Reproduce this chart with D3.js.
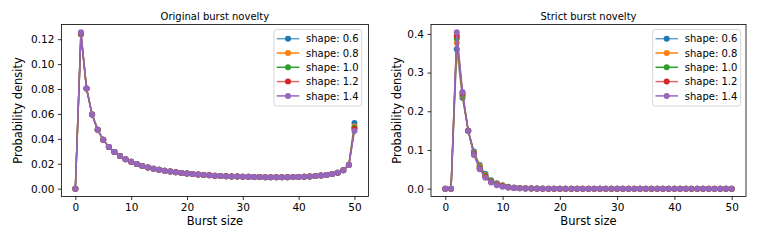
<!DOCTYPE html>
<html lang="en">
<head>
<meta charset="UTF-8" />
<title>Burst novelty</title>
<script src="https://d3js.org/d3.v7.min.js"></script>
<style>
  body { margin: 0; background: white; }
  text { font-family: "DejaVu Sans", sans-serif; fill: #000; }
</style>
</head>
<body>
<div class="visHolder"></div>
<script>
// ----------- Data ----------- //
var burstSizes = d3.range(0, 51);
var shapeLabels = ['shape: 0.6', 'shape: 0.8', 'shape: 1.0', 'shape: 1.2', 'shape: 1.4'];
var colors = ['#1f77b4', '#ff7f0e', '#2ca02c', '#d62728', '#9467bd'];
var lineAlpha = [0.7, 1, 1, 0.7, 1];

var xTicks = [0, 10, 20, 30, 40, 50];
var origYTicks = [0, 0.02, 0.04, 0.06, 0.08, 0.10, 0.12];
var strictYTicks = [0, 0.1, 0.2, 0.3, 0.4];

// original burst novelty, one array per shape
var orig06 = [0, 0.1238, 0.0805, 0.0595, 0.0472, 0.0392, 0.0335, 0.0295, 0.0262, 0.0237, 0.0216, 0.0198, 0.0183, 0.0171, 0.0160, 0.0151, 0.0143, 0.0137, 0.0131, 0.0126, 0.0121, 0.0117, 0.0113, 0.0110, 0.0107, 0.0104, 0.0102, 0.0100, 0.0098, 0.0097, 0.0096, 0.0095, 0.0094, 0.0093, 0.0092, 0.0092, 0.0091, 0.0091, 0.0092, 0.0093, 0.0094, 0.0096, 0.0098, 0.0101, 0.0105, 0.0110, 0.0117, 0.0128, 0.0147, 0.0192, 0.0528];
var orig08 = [0, 0.1242, 0.0805, 0.0595, 0.0472, 0.0392, 0.0335, 0.0295, 0.0262, 0.0237, 0.0216, 0.0198, 0.0183, 0.0171, 0.0160, 0.0151, 0.0143, 0.0137, 0.0131, 0.0126, 0.0121, 0.0117, 0.0113, 0.0110, 0.0107, 0.0104, 0.0102, 0.0100, 0.0098, 0.0097, 0.0096, 0.0095, 0.0094, 0.0093, 0.0092, 0.0092, 0.0091, 0.0091, 0.0092, 0.0093, 0.0094, 0.0096, 0.0098, 0.0101, 0.0105, 0.0110, 0.0117, 0.0128, 0.0147, 0.0191, 0.0500];
var orig10 = [0, 0.1246, 0.0805, 0.0595, 0.0472, 0.0392, 0.0335, 0.0295, 0.0262, 0.0237, 0.0216, 0.0198, 0.0183, 0.0171, 0.0160, 0.0151, 0.0143, 0.0137, 0.0131, 0.0126, 0.0121, 0.0117, 0.0113, 0.0110, 0.0107, 0.0104, 0.0102, 0.0100, 0.0098, 0.0097, 0.0096, 0.0095, 0.0094, 0.0093, 0.0092, 0.0092, 0.0091, 0.0091, 0.0092, 0.0093, 0.0094, 0.0096, 0.0098, 0.0101, 0.0105, 0.0110, 0.0117, 0.0128, 0.0147, 0.0191, 0.0490];
var orig12 = [0, 0.1250, 0.0805, 0.0595, 0.0472, 0.0392, 0.0335, 0.0295, 0.0262, 0.0237, 0.0216, 0.0198, 0.0183, 0.0171, 0.0160, 0.0151, 0.0143, 0.0137, 0.0131, 0.0126, 0.0121, 0.0117, 0.0113, 0.0110, 0.0107, 0.0104, 0.0102, 0.0100, 0.0098, 0.0097, 0.0096, 0.0095, 0.0094, 0.0093, 0.0092, 0.0092, 0.0091, 0.0091, 0.0092, 0.0093, 0.0094, 0.0096, 0.0098, 0.0101, 0.0105, 0.0110, 0.0117, 0.0128, 0.0147, 0.0191, 0.0480];
var orig14 = [0, 0.1255, 0.0805, 0.0595, 0.0472, 0.0392, 0.0335, 0.0295, 0.0262, 0.0237, 0.0216, 0.0198, 0.0183, 0.0171, 0.0160, 0.0151, 0.0143, 0.0137, 0.0131, 0.0126, 0.0121, 0.0117, 0.0113, 0.0110, 0.0107, 0.0104, 0.0102, 0.0100, 0.0098, 0.0097, 0.0096, 0.0095, 0.0094, 0.0093, 0.0092, 0.0092, 0.0091, 0.0091, 0.0092, 0.0093, 0.0094, 0.0096, 0.0098, 0.0101, 0.0105, 0.0110, 0.0117, 0.0128, 0.0147, 0.0190, 0.0462];

// strict burst novelty, one array per shape
var strict06 = [0, 0, 0.360, 0.235, 0.150, 0.096, 0.061, 0.038, 0.022, 0.014, 0.009, 0.005, 0.003, 0.002, 0.001, 0.0005, 0.0003, 0.0002, 0.0001, 0, 0, 0, 0, 0, 0, 0, 0, 0, 0, 0, 0, 0, 0, 0, 0, 0, 0, 0, 0, 0, 0, 0, 0, 0, 0, 0, 0, 0, 0, 0, 0];
var strict08 = [0, 0, 0.377, 0.240, 0.150, 0.093, 0.058, 0.035, 0.020, 0.012, 0.008, 0.004, 0.0025, 0.0015, 0.001, 0.0005, 0.0002, 0.0001, 0, 0, 0, 0, 0, 0, 0, 0, 0, 0, 0, 0, 0, 0, 0, 0, 0, 0, 0, 0, 0, 0, 0, 0, 0, 0, 0, 0, 0, 0, 0, 0, 0];
var strict10 = [0, 0, 0.388, 0.243, 0.150, 0.091, 0.055, 0.033, 0.019, 0.011, 0.007, 0.004, 0.002, 0.001, 0.0007, 0.0004, 0.0002, 0.0001, 0, 0, 0, 0, 0, 0, 0, 0, 0, 0, 0, 0, 0, 0, 0, 0, 0, 0, 0, 0, 0, 0, 0, 0, 0, 0, 0, 0, 0, 0, 0, 0, 0];
var strict12 = [0, 0, 0.395, 0.247, 0.150, 0.089, 0.052, 0.030, 0.017, 0.010, 0.006, 0.003, 0.002, 0.001, 0.0005, 0.0003, 0.0001, 0, 0, 0, 0, 0, 0, 0, 0, 0, 0, 0, 0, 0, 0, 0, 0, 0, 0, 0, 0, 0, 0, 0, 0, 0, 0, 0, 0, 0, 0, 0, 0, 0, 0];
var strict14 = [0, 0, 0.404, 0.250, 0.149, 0.087, 0.050, 0.028, 0.016, 0.009, 0.005, 0.003, 0.0015, 0.0008, 0.0004, 0.0002, 0.0001, 0, 0, 0, 0, 0, 0, 0, 0, 0, 0, 0, 0, 0, 0, 0, 0, 0, 0, 0, 0, 0, 0, 0, 0, 0, 0, 0, 0, 0, 0, 0, 0, 0, 0];

// ----------- Main SVG ----------- //
var width = 774;
var height = 240;

var svg = d3.select('.visHolder')
  .append('svg')
  .attr('width', width)
  .attr('height', height)
  .style('background', 'white');

var axTop = 24.5, axBottom = 196.5;

function drawPanel(opts) {
  var xScale = d3.scaleLinear().domain([-2.5, 52.5]).range([opts.left, opts.right]);
  var allVals = d3.merge(opts.series);
  var yMin = d3.min(allVals), yMax = d3.max(allVals);
  var pad = (yMax - yMin) * 0.05;
  var yScale = d3.scaleLinear().domain([yMin - pad, yMax + pad]).range([axBottom, axTop]);

  var g = svg.append('g');

  // axes
  var xAxis = d3.axisBottom(xScale).tickValues(xTicks).tickSize(3.5).tickPadding(3.5).tickFormat(d3.format('d'));
  var yAxis = d3.axisLeft(yScale).tickValues(opts.yTicks).tickSize(3.5).tickPadding(3.5).tickFormat(d3.format(opts.yFormat));

  g.append('g')
    .attr('transform', 'translate(0,' + axBottom + ')')
    .call(xAxis)
    .call(s => s.select('.domain').remove())
    .call(s => s.selectAll('line').attr('stroke', '#000').attr('stroke-width', 0.8))
    .call(s => s.selectAll('text').attr('font-size', 10.5).attr('font-family', 'DejaVu Sans'));

  g.append('g')
    .attr('transform', 'translate(' + opts.left + ',0)')
    .call(yAxis)
    .call(s => s.select('.domain').remove())
    .call(s => s.selectAll('line').attr('stroke', '#000').attr('stroke-width', 0.8))
    .call(s => s.selectAll('text').attr('font-size', 10.5).attr('font-family', 'DejaVu Sans'));

  // lines + markers
  var line = d3.line().x((d, i) => xScale(burstSizes[i])).y(d => yScale(d));
  opts.series.forEach(function(vals, k) {
    g.append('path')
      .datum(vals)
      .attr('d', line)
      .attr('fill', 'none')
      .attr('stroke', colors[k])
      .attr('stroke-opacity', lineAlpha[k])
      .attr('stroke-width', 1.5)
      .attr('stroke-linejoin', 'round');
    g.selectAll('.m' + k)
      .data(vals)
      .enter()
      .append('circle')
      .attr('class', 'm' + k)
      .attr('cx', (d, i) => xScale(burstSizes[i]))
      .attr('cy', d => yScale(d))
      .attr('r', 3)
      .attr('fill', colors[k]);
  });

  // frame
  g.append('rect')
    .attr('x', opts.left).attr('y', axTop)
    .attr('width', opts.right - opts.left).attr('height', axBottom - axTop)
    .attr('fill', 'none').attr('stroke', '#000').attr('stroke-width', 0.8);

  // titles and labels
  g.append('text')
    .attr('x', (opts.left + opts.right) / 2).attr('y', 19.5)
    .attr('text-anchor', 'middle').attr('font-size', 10)
    .text(opts.title);

  g.append('text')
    .attr('x', (opts.left + opts.right) / 2).attr('y', 225)
    .attr('text-anchor', 'middle').attr('font-size', 11.5)
    .text('Burst size');

  g.append('text')
    .attr('transform', 'translate(' + opts.yLabelX + ',' + (axTop + axBottom) / 2 + ') rotate(-90)')
    .attr('text-anchor', 'middle').attr('font-size', 11.5)
    .text('Probability density');

  // legend
  var lg = g.append('g').attr('transform', 'translate(' + opts.legendX + ',29.5)');
  lg.append('rect')
    .attr('width', opts.legendW).attr('height', 76.5)
    .attr('rx', 2.5)
    .attr('fill', 'white').attr('fill-opacity', 0.8)
    .attr('stroke', '#cccccc').attr('stroke-width', 0.8);
  shapeLabels.forEach(function(lab, k) {
    var yy = 9.2 + k * 14.3;
    lg.append('line')
      .attr('x1', 2.8).attr('x2', 25.3).attr('y1', yy).attr('y2', yy)
      .attr('stroke', colors[k]).attr('stroke-opacity', lineAlpha[k]).attr('stroke-width', 1.5);
    lg.append('circle').attr('cx', 14).attr('cy', yy).attr('r', 3).attr('fill', colors[k]);
    lg.append('text')
      .attr('x', 32).attr('y', yy + 3.6).attr('font-size', 10)
      .text(lab);
  });
}

drawPanel({
  left: 61.4, right: 368.4,
  series: [orig06, orig08, orig10, orig12, orig14],
  yTicks: origYTicks, yFormat: '.2f',
  title: 'Original burst novelty',
  yLabelX: 21.5,
  legendX: 274, legendW: 87.7
});

drawPanel({
  left: 431, right: 746,
  series: [strict06, strict08, strict10, strict12, strict14],
  yTicks: strictYTicks, yFormat: '.1f',
  title: 'Strict burst novelty',
  yLabelX: 400.5,
  legendX: 652.7, legendW: 88
});
</script>
</body>
</html>
